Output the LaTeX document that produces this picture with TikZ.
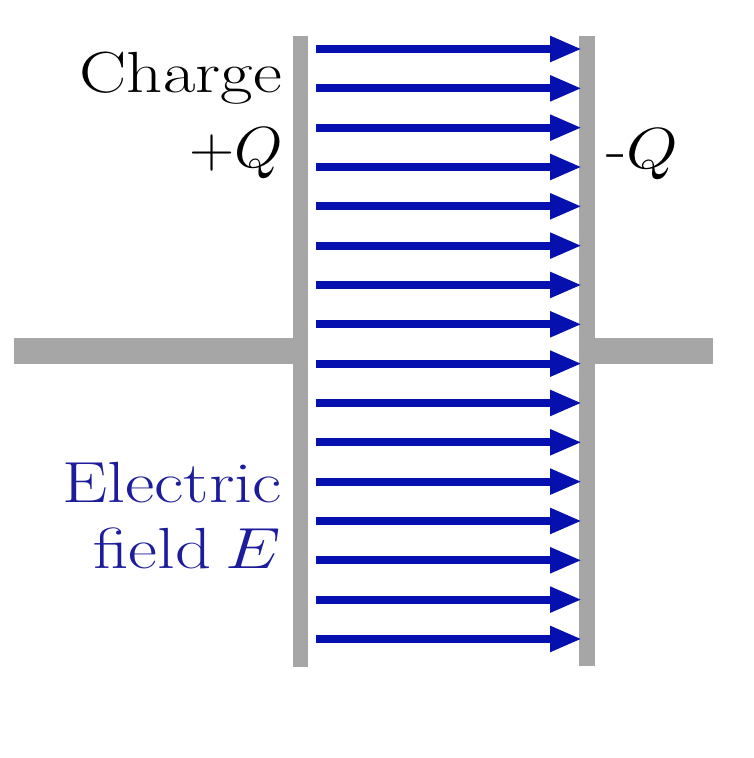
\documentclass[tikz,border=0pt]{standalone}
\usepackage{fix-cm}
\usepackage{graphicx}
\usetikzlibrary{arrows.meta}
\definecolor{plategray}{HTML}{A6A6A6}
\definecolor{fieldblue}{HTML}{0610AE}
\definecolor{textblue}{HTML}{1C1C9C}
\tikzset{
  plate/.style={fill=plategray, draw=none},
  fieldarrow/.style={draw=fieldblue, line width=8pt, -{Triangle[length=32pt,width=24pt]}},
  lbl/.style={inner sep=0pt, font=\fontsize{58}{60}\selectfont},
}
\newcommand{\wide}[2][1.2]{\scalebox{#1}[1]{#2}}
\begin{document}
\begin{tikzpicture}[x=1pt,y=-1pt]
\useasboundingbox (0,0) rectangle (754,758);
% wires
\fill[plategray] (14,338) rectangle (293,364);
\fill[plategray] (595,338) rectangle (713,364);
% plates
\node[plate, minimum width=15pt, minimum height=631pt, inner sep=0pt] (lp) at (300.5,351.5) {};
\node[plate, minimum width=16pt, minimum height=630pt, inner sep=0pt] (rp) at (587,351) {};
% field arrows
\foreach \i in {0,...,15}{
  \coordinate (s\i) at (316,{49+39.33*\i});
  \coordinate (e\i) at (582,{49+39.33*\i});
  \draw[fieldarrow] (s\i) -- (e\i);
}
% labels
\node[lbl, anchor=base east] (charge) at (282,92) {\wide[1.22]{Charge}};
\node[lbl, anchor=base east] (pq) at (283,167) {\wide[1.08]{$+Q$}};
\node[lbl, anchor=base west] (mq) at (606,168) {\wide[1.15]{-$Q$}};
\node[lbl, anchor=base east, text=textblue] (el) at (282,502) {\wide[1.24]{Electric}};
\node[lbl, anchor=base east, text=textblue] (fe) at (281,568) {\wide[1.22]{field\hspace{0.2em}$E$}};
\end{tikzpicture}
\end{document}
